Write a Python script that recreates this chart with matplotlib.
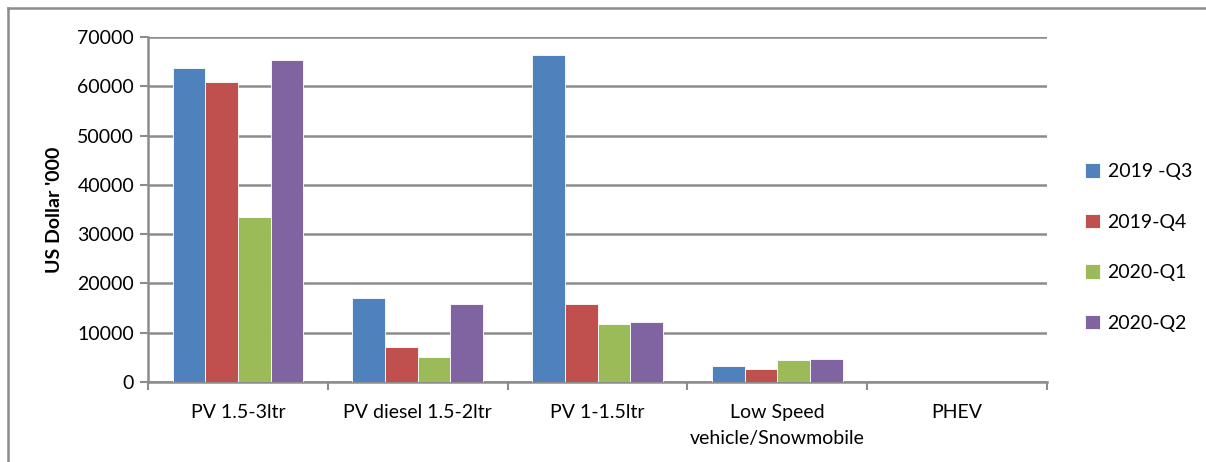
import numpy as np
import matplotlib.pyplot as plt
from matplotlib.lines import Line2D

categories = ['PV 1.5-3ltr', 'PV diesel 1.5-2ltr', 'PV 1-1.5ltr',
              'Low Speed\nvehicle/Snowmobile', 'PHEV']
series_names = ['2019 -Q3', '2019-Q4', '2020-Q1', '2020-Q2']
q3_2019 = [63800, 17000, 66400, 3300, 0]
q4_2019 = [60900, 7200, 15800, 2700, 0]
q1_2020 = [33500, 5100, 11800, 4500, 0]
q2_2020 = [65400, 15900, 12100, 4600, 40]
colors = ['#4f81bd', '#c0504d', '#9bbb59', '#8064a2']

plt.rcParams['font.family'] = ['Lato', 'DejaVu Sans']

fig = plt.figure(figsize=(12.06, 4.62), dpi=100)
ax = fig.add_axes([148 / 1206, 1 - 382 / 462, 899 / 1206, 345 / 462])

grid_col = '#8c8c8c'
width = 1 / 5.5
x = np.arange(len(categories))
for i, (vals, name, c) in enumerate(zip([q3_2019, q4_2019, q1_2020, q2_2020],
                                         series_names, colors)):
    offs = (i - 1.5) * width
    ax.bar(x + offs, vals, width, color=c, label=name, zorder=3,
           edgecolor='white', linewidth=0.6)

ax.set_xlim(-0.5, len(categories) - 0.5)
ax.set_ylim(0, 70000)
ax.set_yticks(np.arange(0, 70001, 10000))
ax.yaxis.grid(True, color=grid_col, linewidth=1.8, zorder=0)
ax.set_axisbelow(True)

# category labels sit between boundary ticks
ax.set_xticks(np.arange(-0.5, len(categories), 1))
ax.set_xticklabels([])
ax.set_xticks(x, minor=True)
ax.set_xticklabels(categories, minor=True, fontsize=14, linespacing=1.65)
ax.tick_params(axis='x', which='minor', length=0, pad=16)
ax.tick_params(axis='x', which='major', length=6, width=1.5, color=grid_col)
ax.tick_params(axis='y', length=6, width=1.5, color=grid_col,
               labelsize=14, pad=4)

for s in ['top', 'right']:
    ax.spines[s].set_visible(False)
for s in ['left', 'bottom']:
    ax.spines[s].set_color(grid_col)
    ax.spines[s].set_linewidth(1.8)

ax.set_ylabel("US Dollar '000", fontsize=14, fontweight='bold', labelpad=10)

ax.legend(loc='center left', bbox_to_anchor=(1.023, 0.39), frameon=False,
          fontsize=14, handlelength=0.75, handleheight=0.75,
          handletextpad=0.4, labelspacing=1.72)

# chart frame (top and left edges)
fig.add_artist(Line2D([7.5 / 1206, 1], [1 - 7.5 / 462, 1 - 7.5 / 462],
                      color='#8c8c8c', linewidth=1.8))
fig.add_artist(Line2D([7.5 / 1206, 7.5 / 1206], [0, 1 - 7.5 / 462],
                      color='#8c8c8c', linewidth=1.8))

fig.savefig('out.png', dpi=100)
